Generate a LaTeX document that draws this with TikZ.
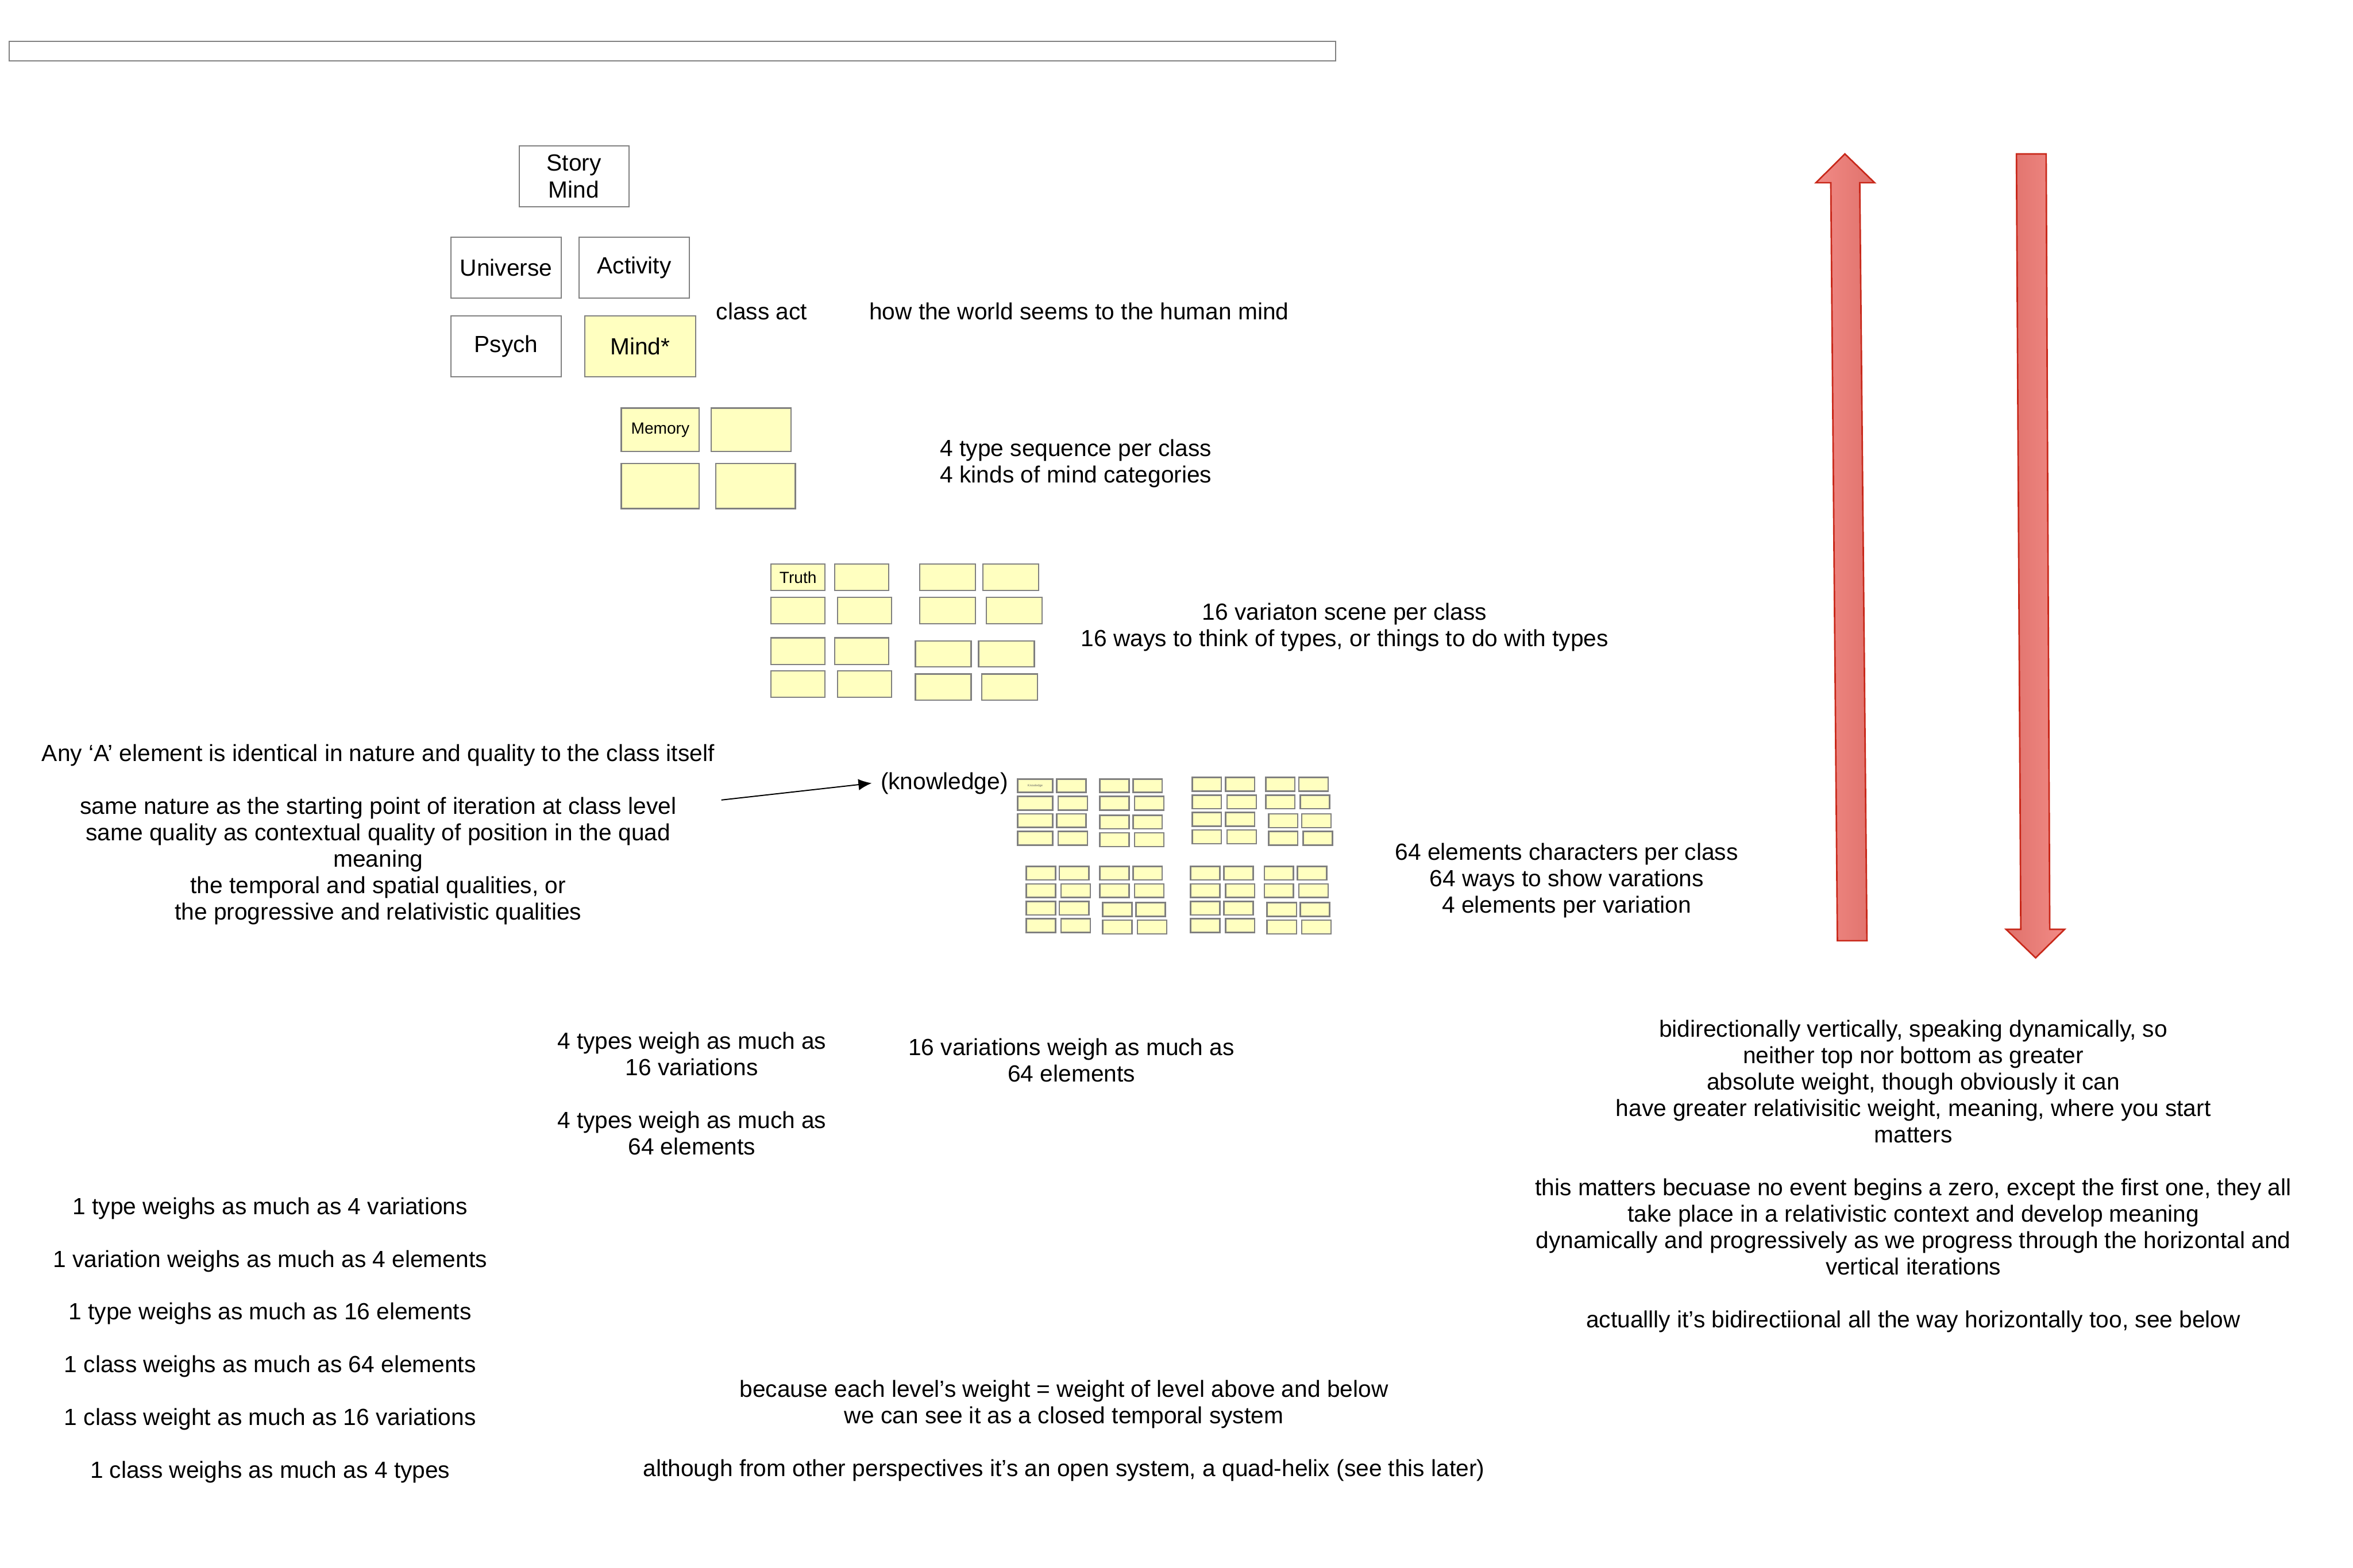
\documentclass[tikz,border=0pt]{standalone}
\usepackage{fontspec}
\setmainfont{Liberation Sans}
\usetikzlibrary{arrows.meta}
\definecolor{boxgray}{RGB}{128,128,128}
\definecolor{stickyyellow}{RGB}{255,255,192}
\definecolor{arrowstroke}{RGB}{200,40,26}
\definecolor{arrowlight}{RGB}{242,139,134}
\definecolor{arrowdark}{RGB}{223,113,107}
\newcommand\mkbox[7]{%
  \pgfmathsetlengthmacro\mkw{(#5-#3)*0.027755cm}%
  \pgfmathsetlengthmacro\mkh{(#6-#4)*0.027755cm}%
  \node[#1, minimum width=\mkw, minimum height=\mkh] (#2) at ({(#3+#5)/2},{(#4+#6)/2}) {#7};}
\begin{document}
\begin{tikzpicture}[x=0.027755cm, y=-0.027755cm,
  wbox/.style={draw=boxgray, line width=0.6pt, fill=white, inner sep=0pt, align=center, font=\fontsize{12.3}{14.2}\selectfont},
  ybox/.style={wbox, fill=stickyyellow},
  sbox/.style={draw=boxgray, line width=0.7pt, fill=stickyyellow, inner sep=0pt, font=\fontsize{8.5}{10}\selectfont},
  ebox/.style={draw=boxgray, line width=0.8pt, fill=stickyyellow, inner sep=0pt, font=\fontsize{1.6}{2}\selectfont, text=black!60},
  txt/.style={inner sep=0pt, align=center, font=\fontsize{12.3}{13.9}\selectfont},
  bigarrow/.style={draw=arrowstroke, line width=0.8pt, line join=miter}
]
\useasboundingbox (0,0) rectangle (1568,1045);
\fill[white] (0,0) rectangle (1568,1045);

% title bar
\mkbox{wbox}{titlebar}{6.1}{27.4}{890}{40.6}{}

% class level
\mkbox{wbox}{storymind}{345.9}{97.2}{419}{138}{Story\\Mind}
\mkbox{wbox}{universe}{300.6}{158}{374}{198.5}{Universe}
\mkbox{wbox}{activity}{385.9}{158}{459.4}{198.5}{Activity}
\mkbox{wbox}{psych}{300.6}{210.5}{374}{251}{Psych}
\mkbox{ybox}{mind}{389.8}{210.5}{463.4}{251}{Mind*}

\node[txt, anchor=base west] (classact) at (477,213) {class act};
\node[txt, anchor=base west] (worldseems) at (579,213) {how the world seems to the human mind};

% types
\mkbox{sbox}{memory}{414}{272}{466}{301}{Memory}
\mkbox{sbox}{typeb}{474}{272}{527}{301}{}
\mkbox{sbox}{typec}{414}{309}{466}{339}{}
\mkbox{sbox}{typed}{477}{309}{530}{339}{}

\node[txt, anchor=north] (typetext) at (717,291.7) {\strut 4 type sequence per class\\4 kinds of mind categories};

% variations
\mkbox{sbox}{v1}{513.8}{376}{549.8}{393.5}{Truth}
\mkbox{sbox}{v2}{556.3}{376}{592.3}{393.5}{}
\mkbox{sbox}{v3}{612.9}{376}{650.0}{393.5}{}
\mkbox{sbox}{v4}{655}{376}{692.1}{393.5}{}
\mkbox{sbox}{v5}{513.8}{398}{549.8}{415.8}{}
\mkbox{sbox}{v6}{558.1}{398}{594.1}{415.8}{}
\mkbox{sbox}{v7}{612.9}{398}{650}{415.8}{}
\mkbox{sbox}{v8}{657.2}{398}{694.3}{415.8}{}
\mkbox{sbox}{v9}{513.8}{425.1}{549.8}{442.8}{}
\mkbox{sbox}{v10}{556.3}{425.1}{592.3}{442.8}{}
\mkbox{sbox}{v11}{610}{427.1}{647.1}{444.5}{}
\mkbox{sbox}{v12}{652.1}{427.1}{689.2}{444.5}{}
\mkbox{sbox}{v13}{513.8}{447.2}{549.8}{464.8}{}
\mkbox{sbox}{v14}{558.1}{447.2}{594.1}{464.8}{}
\mkbox{sbox}{v15}{610}{449.2}{647.1}{466.6}{}
\mkbox{sbox}{v16}{654.3}{449.2}{691.4}{466.6}{}

\node[txt, anchor=north] (vartext) at (896,400.7) {\strut 16 variaton scene per class\\16 ways to think of types, or things to do with types};

% elements
\mkbox{ebox}{e1}{678.1}{519.2}{701.6}{528.2}{Knowledge}
\mkbox{ebox}{e2}{704.1}{519.2}{723.6}{528.2}{}
\mkbox{ebox}{e3}{678.1}{530.8}{701.6}{539.9}{}
\mkbox{ebox}{e4}{705.1}{530.8}{724.6}{539.9}{}
\mkbox{ebox}{e5}{678.1}{542.5}{701.6}{551.5}{}
\mkbox{ebox}{e6}{704.1}{542.5}{723.6}{551.5}{}
\mkbox{ebox}{e7}{678.1}{554.1}{701.6}{563.4}{}
\mkbox{ebox}{e8}{705.1}{554.1}{724.6}{563.4}{}
\mkbox{ebox}{e9}{732.9}{519.2}{752.4}{528.2}{}
\mkbox{ebox}{e10}{755.0}{519.2}{774.4}{528.2}{}
\mkbox{ebox}{e11}{732.9}{530.8}{752.4}{539.9}{}
\mkbox{ebox}{e12}{756.1}{530.8}{775.6}{539.9}{}
\mkbox{ebox}{e13}{732.9}{543.5}{752.4}{552.4}{}
\mkbox{ebox}{e14}{755.0}{543.5}{774.4}{552.4}{}
\mkbox{ebox}{e15}{732.9}{555.1}{752.4}{564.2}{}
\mkbox{ebox}{e16}{756.1}{555.1}{775.6}{564.2}{}
\mkbox{ebox}{e17}{794.5}{518.2}{813.8}{527.2}{}
\mkbox{ebox}{e18}{816.6}{518.2}{836.1}{527.2}{}
\mkbox{ebox}{e19}{794.5}{529.9}{813.8}{539.0}{}
\mkbox{ebox}{e20}{817.7}{529.9}{837.2}{539.0}{}
\mkbox{ebox}{e21}{794.5}{541.5}{813.8}{550.6}{}
\mkbox{ebox}{e22}{816.6}{541.5}{836.1}{550.6}{}
\mkbox{ebox}{e23}{794.5}{553.2}{813.8}{562.3}{}
\mkbox{ebox}{e24}{817.7}{553.2}{837.2}{562.3}{}
\mkbox{ebox}{e25}{843.4}{518.2}{862.9}{527.2}{}
\mkbox{ebox}{e26}{865.5}{518.2}{885.1}{527.2}{}
\mkbox{ebox}{e27}{843.4}{529.9}{862.9}{539.0}{}
\mkbox{ebox}{e28}{866.6}{529.9}{886.0}{539.0}{}
\mkbox{ebox}{e29}{845.4}{542.5}{864.8}{551.6}{}
\mkbox{ebox}{e30}{867.4}{542.5}{886.9}{551.6}{}
\mkbox{ebox}{e31}{845.4}{554.1}{864.8}{563.4}{}
\mkbox{ebox}{e32}{868.4}{554.1}{888.0}{563.4}{}
\mkbox{ebox}{e33}{683.9}{577.4}{703.3}{586.5}{}
\mkbox{ebox}{e34}{705.9}{577.4}{725.6}{586.5}{}
\mkbox{ebox}{e35}{683.9}{589.1}{703.3}{598.2}{}
\mkbox{ebox}{e36}{707.0}{589.1}{726.5}{598.2}{}
\mkbox{ebox}{e37}{683.9}{600.7}{703.3}{609.8}{}
\mkbox{ebox}{e38}{705.9}{600.7}{725.6}{609.8}{}
\mkbox{ebox}{e39}{683.9}{612.4}{703.3}{621.5}{}
\mkbox{ebox}{e40}{707.0}{612.4}{726.5}{621.5}{}
\mkbox{ebox}{e41}{732.9}{577.4}{752.4}{586.5}{}
\mkbox{ebox}{e42}{755.0}{577.4}{774.4}{586.5}{}
\mkbox{ebox}{e43}{732.9}{589.1}{752.4}{598.2}{}
\mkbox{ebox}{e44}{756.1}{589.1}{775.6}{598.2}{}
\mkbox{ebox}{e45}{734.9}{601.7}{754.3}{610.8}{}
\mkbox{ebox}{e46}{756.9}{601.7}{776.5}{610.8}{}
\mkbox{ebox}{e47}{734.9}{613.3}{754.3}{622.4}{}
\mkbox{ebox}{e48}{758.0}{613.3}{777.5}{622.4}{}
\mkbox{ebox}{e49}{793.4}{577.4}{812.9}{586.5}{}
\mkbox{ebox}{e50}{815.5}{577.4}{835.1}{586.5}{}
\mkbox{ebox}{e51}{793.4}{589.1}{812.9}{598.2}{}
\mkbox{ebox}{e52}{816.6}{589.1}{836.1}{598.2}{}
\mkbox{ebox}{e53}{793.4}{600.7}{812.9}{609.8}{}
\mkbox{ebox}{e54}{815.5}{600.7}{835.1}{609.8}{}
\mkbox{ebox}{e55}{793.4}{612.4}{812.9}{621.5}{}
\mkbox{ebox}{e56}{816.6}{612.4}{836.1}{621.5}{}
\mkbox{ebox}{e57}{842.5}{577.4}{861.9}{586.5}{}
\mkbox{ebox}{e58}{864.5}{577.4}{884.1}{586.5}{}
\mkbox{ebox}{e59}{842.5}{589.1}{861.9}{598.2}{}
\mkbox{ebox}{e60}{865.5}{589.1}{885.1}{598.2}{}
\mkbox{ebox}{e61}{844.4}{601.7}{864.0}{610.8}{}
\mkbox{ebox}{e62}{866.4}{601.7}{886.0}{610.8}{}
\mkbox{ebox}{e63}{844.4}{613.3}{864.0}{622.4}{}
\mkbox{ebox}{e64}{867.4}{613.3}{886.9}{622.4}{}

\node[txt, anchor=north] (elemtext) at (1044,560.7) {\strut 64 elements characters per class\\64 ways to show varations\\4 elements per variation};

% left explanation and arrow
\node[txt, anchor=north] (anytext) at (252,494.7) {\strut Any ‘A’ element is identical in nature and quality to the class itself\\[\baselineskip]
same nature as the starting point of iteration at class level\\
same quality as contextual quality of position in the quad\\
meaning\\
the temporal and spatial qualities, or\\
the progressive and relativistic qualities};
\node[txt, anchor=base west, inner xsep=4.5pt] (knowledge) at (580.9,526) {(knowledge)};
\coordinate (kstart) at (480.7,533.2);
\draw[line width=0.6pt, -{Latex[length=7pt, width=6pt]}] (kstart) -- (knowledge.west);

% red arrows
\shadedraw[bigarrow, left color=arrowlight, right color=arrowdark]
  (1229.4,102.6) -- (1249.2,121.8) -- (1239.3,121.8) -- (1244.1,627) -- (1224.4,627) -- (1220.0,121.8) -- (1210.1,121.8) -- cycle;
\shadedraw[bigarrow, left color=arrowdark, right color=arrowlight]
  (1343.7,102.6) -- (1363.5,102.6) -- (1365.9,619.4) -- (1375.8,619.4) -- (1356.5,638.4) -- (1336.8,619.4) -- (1346.6,619.4) -- cycle;

% weights
\node[txt, anchor=north] (fourtypes) at (461,686.7) {\strut 4 types weigh as much as\\16 variations\\[\baselineskip]4 types weigh as much as\\64 elements};
\node[txt, anchor=north] (sixteenvar) at (714,690.7) {\strut 16 variations weigh as much as\\64 elements};

\node[txt, anchor=north] (onelist) at (180,796.7) {\strut 1 type weighs as much as 4 variations\\[\baselineskip]
1 variation weighs as much as 4 elements\\[\baselineskip]
1 type weighs as much as 16 elements\\[\baselineskip]
1 class weighs as much as 64 elements\\[\baselineskip]
1 class weight as much as 16 variations\\[\baselineskip]
1 class weighs as much as 4 types};

\node[txt, anchor=north] (closedsys) at (709,918.7) {\strut because each level’s weight = weight of level above and below\\
we can see it as a closed temporal system\\[\baselineskip]
although from other perspectives it’s an open system, a quad-helix (see this later)};

\node[txt, anchor=north] (bidir) at (1275,678.7) {\strut bidirectionally vertically, speaking dynamically, so\\
neither top nor bottom as greater\\
absolute weight, though obviously it can\\
have greater relativisitic weight, meaning, where you start\\
matters\\[\baselineskip]
this matters becuase no event begins a zero, except the first one, they all\\
take place in a relativistic context and develop meaning\\
dynamically and progressively as we progress through the horizontal and\\
vertical iterations\\[\baselineskip]
actuallly it’s bidirectiional all the way horizontally too, see below};
\end{tikzpicture}
\end{document}
